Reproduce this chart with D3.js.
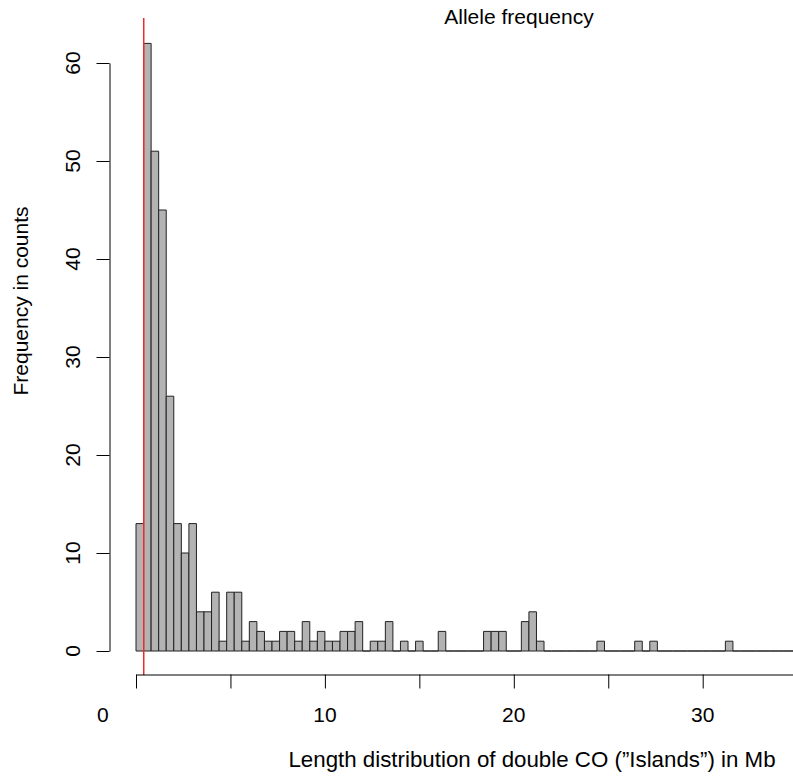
<!DOCTYPE html>
<html>
<head>
<meta charset="utf-8">
<script src="https://cdn.jsdelivr.net/npm/d3@7"></script>
<style>
  body { margin: 0; background: #fff; }
  svg { display: block; font-family: "Liberation Sans", Arial, Helvetica, sans-serif; }
  .axis path, .axis line { stroke: #000; stroke-width: 1; }
</style>
</head>
<body>
<div id="chart"></div>
<script>
// histogram of island lengths (Mb), bins of 0.4 Mb starting at 0
const binWidth = 0.4;
const counts = [
  13, 62, 51, 45, 26, 13, 10, 13, 4, 4,
  6, 1, 6, 6, 1, 3, 2, 1, 1, 2,
  2, 1, 3, 1, 2, 1, 1, 2, 2, 3,
  0, 1, 1, 3, 0, 1, 0, 1, 0, 0,
  2, 0, 0, 0, 0, 0, 2, 2, 2, 0,
  0, 3, 4, 1, 0, 0, 0, 0, 0, 0,
  0, 1, 0, 0, 0, 0, 1, 0, 1, 0,
  0, 0, 0, 0, 0, 0, 0, 0, 1, 0,
  0, 0, 0, 0, 0, 0, 0, 0
];
const redLineAt = 0.41;
const xTicks = [0, 5, 10, 15, 20, 25, 30, 35];
const xTickLabels = ["0", "10", "20", "30"];
const xTickLabelAt = [-1.75, 10, 20, 30];
const yTicks = [0, 10, 20, 30, 40, 50, 60];

const width = 793, height = 779;

const svg = d3.select("#chart").append("svg")
    .attr("width", width)
    .attr("height", height);

const x = d3.scaleLinear()
    .domain([0, 35])
    .range([136, 136 + 35 * 18.89]);

const y = d3.scaleLinear()
    .domain([0, 60])
    .range([651, 63]);

const bins = counts.map((c, i) => ({ x0: i * binWidth, x1: (i + 1) * binWidth, n: c }));

// bars (paths so that empty bins still show as a line)
svg.append("g")
    .selectAll("path")
    .data(bins)
    .join("path")
    .attr("d", d => {
        const x0 = x(d.x0), x1 = x(d.x1), y0 = y(0), y1 = y(d.n);
        return `M${x0},${y0}V${y1}H${x1}V${y0}Z`;
    })
    .attr("fill", "#b3b3b3")
    .attr("stroke", "#222")
    .attr("stroke-width", 1);

// red vertical line
svg.append("line")
    .attr("x1", x(redLineAt)).attr("x2", x(redLineAt))
    .attr("y1", 18).attr("y2", 675)
    .attr("stroke", "#ee2a2a")
    .attr("stroke-width", 1.5);

// x axis
svg.append("g")
    .attr("class", "axis")
    .attr("transform", "translate(0,674.5)")
    .call(d3.axisBottom(x).tickValues(xTicks).tickSize(14).tickSizeOuter(0).tickFormat(""));

svg.append("g")
    .selectAll("text")
    .data(xTickLabels)
    .join("text")
    .attr("x", (d, i) => x(xTickLabelAt[i]))
    .attr("y", 722)
    .attr("text-anchor", "middle")
    .attr("font-size", 21)
    .text(d => d);

// y axis
svg.append("g")
    .attr("class", "axis")
    .attr("transform", "translate(109.5,0)")
    .call(d3.axisLeft(y).tickValues(yTicks).tickSize(13).tickSizeOuter(0).tickFormat(""));

svg.append("g")
    .selectAll("text")
    .data(yTicks)
    .join("text")
    .attr("transform", d => `translate(79.5,${y(d)}) rotate(-90)`)
    .attr("text-anchor", "middle")
    .attr("font-size", 21)
    .text(d => d);

// titles
svg.append("text")
    .attr("x", 519).attr("y", 23.5)
    .attr("text-anchor", "middle")
    .attr("font-size", 21)
    .text("Allele frequency");

svg.append("text")
    .attr("x", 532).attr("y", 767)
    .attr("text-anchor", "middle")
    .attr("font-size", 22.3)
    .text("Length distribution of double CO (\u201DIslands\u201D) in Mb");

svg.append("text")
    .attr("transform", "translate(28,301) rotate(-90)")
    .attr("text-anchor", "middle")
    .attr("font-size", 21)
    .text("Frequency in counts");
</script>
</body>
</html>
